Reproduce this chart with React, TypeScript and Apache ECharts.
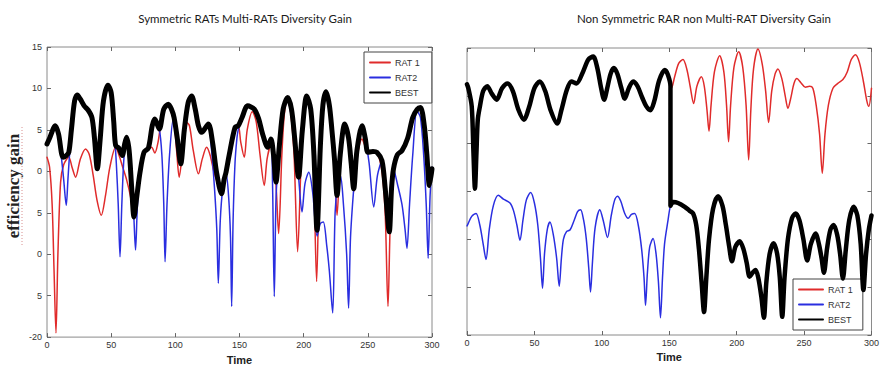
import React, { useEffect, useRef } from 'react';
import * as echarts from 'echarts';

type P = [number, number];

const seriesNames = ['RAT 1', 'RAT2', 'BEST'];
const leftTitle = 'Symmetric RATs Multi-RATs Diversity Gain';
const rightTitle = 'Non Symmetric RAR non Multi-RAT Diversity Gain';
const xName = 'Time';
const yName = 'efficiency gain';
const yTicksLeft = [15, 10, 5, 0, -5, -10, -15, -20];
const yTickLabelsLeft = ['15', '10', '5', '0', '5', '0', '5', '-20'];

// ---- left chart (symmetric) ----
const leftRat1: P[] = [
  [0, 1.7], [2, 0.5], [4, -4], [5.5, -12], [7, -19.5], [8.5, -10], [10.6, -1.3], [13, 0.8], [17, 1.7], [19.5, 0.5],
  [22.3, -0.7], [26, 1.5], [30.1, 2.7], [33, 2], [36, -0.5], [39, -3.5], [42.3, -5.3], [45.5, -3], [49, 0.5], [53.5, 2.9],
  [56, 2], [59, 0.5], [62, -1], [65, -3], [67.5, -5.5], [70, -2], [73, 0.5], [76, 2.3], [79, 2.7], [81.5, 2.9],
  [84, 2.2], [86.5, 3.5], [88, 5], [91, 7.5], [94.5, 8.1], [97, 7], [99, 6], [101, 2.5], [103, -0.7], [106, 3],
  [108.8, 5.9], [111, 5.5], [114, 2.5], [118, -0.3], [121, 1.5], [124.4, 2.9], [127, 2], [130, 0], [133, -1.5], [136, -2.7],
  [139.5, -0.1], [142, 2], [146.5, 5.3], [149, 5.5], [151, 3.5], [153.7, 1.7], [156, 5], [160, 7.2], [163, 6], [166, 2],
  [169.3, -1.7], [171.5, 1.5], [174.5, 3.2], [176.5, 1], [178.4, -1.5], [180.5, -7.5], [183, 2], [185, 7], [187.5, 8.9], [190, 7],
  [192.5, 2], [195.3, -9.7], [198, 1], [200, 6], [202.4, 9.1], [205, 7.5], [207.5, 2], [210.1, -13.3], [212.5, 2], [215, 8],
  [217.4, 9.6], [220, 8], [222, 5], [224, 1], [226, -5.3], [228.5, 1.5], [232, 5.7], [235, 4], [237, 1], [239, -2.5],
  [241.5, 1.5], [245.5, 3.9], [248, 3], [250.1, 2.3], [254, 2.4], [257, 2.3], [261, 0], [263.5, -5], [265.7, -16.3], [268, -4],
  [272, 2], [276.6, 2.5], [281, 4], [285, 6.5], [288.5, 7.5], [291, 7.7], [294, 5.5], [296, 2], [298, -1.7], [300, 0.3],
];

const leftRat2: P[] = [
  [0, 3.3], [2, 4.0], [6.5, 5.5], [9, 4.5], [11, 2.0], [13, -1], [15, -4.1], [16.3, -1], [17.5, 1.9], [19, 5],
  [21.5, 8.5], [23.6, 9.2], [26, 8.7], [29, 7.9], [32, 7.4], [35, 6.5], [37, 4], [39.2, 0.3], [41.5, 4], [44, 8.5],
  [47.5, 10.4], [50, 9.5], [52, 6], [54, 1], [55.5, -4], [56.9, -10.3], [58.3, -4], [60, 1.7], [62, 4.1], [64, 2.5],
  [66, -2], [67.5, -5], [69, -9.5], [70.5, -4], [72.5, -0.5], [75.6, 2.3], [79, 2.8], [82, 5.5], [84, 6.3], [87.5, 5.1],
  [89.5, 2], [91, -4], [92, -10.9], [93.5, -4], [95.5, 2], [98.4, 6.3], [100.5, 4], [102.5, 1.5], [104.2, 0.9], [107, 5],
  [110, 8.3], [112.7, 9.1], [115.5, 7.5], [118, 5.5], [120.5, 4.7], [123, 5.3], [125.7, 5.7], [128, 3], [130.5, -2], [132.3, -7],
  [133.5, -13.5], [135, -6], [137, -2], [139.5, -0.3], [141.5, -3], [143, -8], [143.9, -16.3], [145, -6], [146.5, 1], [148, 4],
  [149, 5], [152, 6.5], [156.4, 7.9], [161.5, 7.5], [165, 6.3], [168, 4.5], [172, 2.9], [174.5, 3.9], [175.8, -2], [177.1, -15.1],
  [178.5, -3], [180.5, 1.5], [184, 7], [187.5, 8.5], [191, 6], [194, 2], [196, -0.7], [198.7, -4.9], [201, -1.5], [204, -0.1],
  [207, -2.5], [210.5, -7.8], [213, -6.3], [215.3, -6.1], [218, -9], [220, -12], [222.6, -17.1], [224.5, -5], [226.5, -1.5], [228.6, -0.5],
  [231, -4], [233.5, -10], [235, -16.5], [236.5, -8], [239, -2.1], [242, 3], [245.5, 5.5], [248, 4], [251, 1], [254.6, -4.3],
  [257.5, -0.5], [261, 1.3], [263.5, -2.5], [266.7, -7.3], [268.5, -2.5], [270, 0.3], [273, -1.5], [276.6, -4], [279, -7], [280.5, -9.3],
  [282.5, -4], [285, 2], [288.3, 7.3], [291, 6.5], [293.5, 2], [295.5, -4], [297, -10.5], [298.5, -3], [300, 0.5],
];

const leftBest: P[] = [
  [0, 3.3], [2, 4.0], [6.5, 5.5], [9, 4.5], [12.5, 1.7], [15, 1.9], [17, 2.3], [19, 5], [21.5, 8.5], [23.6, 9.2],
  [26, 8.7], [29, 7.9], [32, 7.4], [35, 6.5], [37, 4], [39.2, 0.3], [41.5, 4], [44, 8.5], [47.5, 10.4], [50, 9.5],
  [52, 6], [53.5, 3.1], [56, 2.8], [58.7, 1.9], [60.5, 3.3], [62, 4.1], [64, 2.5], [66, -2], [67.8, -5.5], [70, -3],
  [72.5, -0.1], [75.6, 2.3], [79, 2.8], [82, 5.5], [84, 6.3], [87.5, 5.1], [91, 7.5], [94.5, 8.1], [97, 7.5], [99, 6.5],
  [101.5, 4], [104.2, 0.9], [107, 5], [110, 8.3], [112.7, 9.1], [115.5, 7.5], [118, 5.5], [120.5, 4.7], [125.7, 5.7], [129, 3.5],
  [132, 0], [136, -2.7], [138, -1], [139.5, -0.1], [142, 2], [146.5, 5.3], [149, 5.5], [152, 6.5], [156.4, 7.9], [161.5, 7.5],
  [165, 6.3], [168, 4.5], [172, 2.9], [174.5, 3.9], [176.5, 2], [178.4, -1.3], [181, 3], [184, 7.5], [187.5, 8.9], [190.5, 7.5],
  [193, 4], [196, -0.7], [199, 5], [202.4, 9.1], [205.5, 7.5], [208, 2], [210.4, -7.1], [213, 3], [215, 8], [217.4, 9.6],
  [220, 8], [222, 5], [224, 1.5], [226, -2.9], [228.5, 2], [232, 5.7], [235, 4], [237, 1], [239, -2.1], [241.5, 2.5],
  [245.5, 5.5], [248, 4], [250.1, 2.3], [254, 2.4], [257, 2.3], [261, 1.3], [263.5, -2], [266.7, -7.3], [268.5, -2], [270, 0.3],
  [273, 2], [276.6, 2.5], [281, 4], [285, 6.5], [288.5, 7.5], [291, 7.7], [294, 5.5], [296, 2], [298, -1.7], [300, 0.3],
];

// ---- right chart (non symmetric) ----
const rightUpper: P[] = [
  [0, 11.2], [1, 10.8], [3.5, 8.9], [4.8, 4], [5.9, 0.3], [7, 4], [8, 7.5], [9.6, 8.9], [12, 10.5], [15, 11.0],
  [18.5, 10.2], [22, 9.6], [26, 10.8], [30.1, 11.3], [34, 10.5], [38, 8.6], [42.2, 7.5], [46, 8.8], [50, 10.8], [54, 11.5],
  [58, 10.5], [62, 8.5], [66.9, 7.1], [70, 8.5], [74, 10.6], [77.5, 11.5], [81.2, 11.3], [86, 12.5], [90, 13.8], [93.6, 14.1],
  [96.5, 13.0], [99.5, 10.8], [101.7, 9.6], [104, 10.8], [106.5, 12.3], [108.9, 12.9], [111.5, 12.3], [114.5, 10.8], [117, 9.7], [120, 10.8],
  [123.2, 11.5], [126.5, 11.0], [130, 9.8], [133, 8.9], [136, 8.5], [139, 9.5], [142.5, 11.6], [146.7, 12.7], [149, 12.2], [150.9, 11],
  [151.6, 10.8], [154, 12], [157, 13.4], [160.2, 13.8], [163, 12.8], [165.5, 11], [168.1, 9.2], [170.5, 11], [173.8, 12.0], [176, 11],
  [178, 8.5], [179.5, 6.3], [181, 9], [183.5, 12.5], [187.4, 14.2], [190.5, 12.5], [192.5, 9], [194, 5.2], [195.5, 9], [198, 13],
  [201.5, 14.6], [204.5, 13], [207, 9], [208.9, 3.3], [210.5, 8.5], [212.5, 12.8], [215.8, 14.9], [219, 13.3], [221.5, 10.5], [223.7, 7.2],
  [226, 10.5], [228.5, 12.3], [230.6, 12.8], [233.5, 11.8], [236, 10], [238, 8.7], [240.5, 10], [242.5, 11.3], [244.7, 11.8], [247.5, 11.4],
  [251, 10.9], [254, 11], [256.5, 10.8], [259, 9], [261.5, 6], [263.5, 1.9], [265.5, 6], [268, 9], [271.4, 10.8], [275, 11.3],
  [278.8, 11.7], [282, 12.5], [285, 13.8], [288.1, 14.3], [291, 13.5], [294, 11.5], [296.5, 9.5], [298, 8.9], [300, 10.8],
];

const rightLower: P[] = [
  [0, -3.6], [1, -3.3], [3.5, -2.6], [6.7, -2.3], [9.5, -3.5], [12, -5.5], [14.1, -7.1], [16.5, -4], [19.5, -1.5], [23.2, -0.4],
  [27, -0.8], [31.9, -1.2], [34.5, -2], [37, -3.5], [39.3, -5.1], [41.5, -3], [44, -0.9], [47.2, -0.1], [50, -1.2], [52.5, -3.5],
  [54.5, -7], [56, -10.1], [57.5, -6.5], [59.5, -4], [61.5, -3.2], [64, -4.5], [66.5, -7], [68.4, -9.9], [70, -7], [71.5, -5],
  [73.8, -4.2], [76.5, -4.0], [79.5, -3], [82, -2.1], [84.2, -1.9], [86.5, -3], [88.5, -5], [90.3, -8], [91.6, -10.5], [93, -7.5],
  [95, -3.8], [98.5, -1.9], [101, -3], [104.2, -4.8], [107, -2.5], [109.5, -0.9], [111.6, -0.5], [114, -1], [117, -2.3], [119.5, -2.8],
  [122, -2.4], [124.4, -2.3], [127, -3.5], [129.5, -6], [131.3, -9], [132.4, -11.9], [133.8, -8.5], [135.5, -5.8], [138, -4.9], [140.2, -6.5],
  [142, -9.5], [143.5, -13.2], [145, -9], [146.5, -5.5], [149.1, -3], [150.9, -1.5], [153, -1.1], [156.5, -1.2], [161.5, -1.6], [165, -2],
  [167.7, -2.3], [170, -3.5], [172, -6], [174, -9.5], [175.8, -12.6], [177.5, -9], [179.5, -5], [182.5, -1.8], [186.2, -0.5], [189.5, -1.5],
  [192, -3.5], [194.5, -5.8], [196.5, -7.3], [199, -5.8], [202.2, -5.2], [205, -6], [207.5, -7.5], [209.6, -8.9], [211.8, -8.5], [214, -8.2],
  [216, -9], [218.3, -11], [220.2, -13.2], [222, -9.5], [224.5, -6.5], [227.4, -5.4], [230, -6.5], [232, -9], [233.8, -13.1], [235.5, -9],
  [238, -5], [241, -2.8], [243.7, -2.3], [246.5, -3], [249.5, -5], [252.3, -7.2], [255, -5.5], [258.5, -4.4], [261, -5.5], [263, -7],
  [264.7, -8.5], [267, -6], [269.5, -4], [271.9, -3.5], [274.5, -4.5], [276.7, -6.5], [278.8, -9.1], [281, -6], [283.5, -3], [286.7, -1.6],
  [289.5, -2.5], [292, -5.5], [294, -10.3], [296, -6.5], [298, -4], [300, -2.5],
];
const rightSwitchTime = 150.9;

const COLORS = { red: '#e02b2b', blue: '#2a2ee0', black: '#000000' };

export default function App() {
  const ref = useRef<HTMLDivElement>(null);
  useEffect(() => {
    const chart = echarts.init(ref.current!, null, { renderer: 'svg' });
    const rightBest: P[] = rightUpper
      .filter((p) => p[0] <= rightSwitchTime)
      .concat(rightLower.filter((p) => p[0] >= rightSwitchTime));

    const font = 'Liberation Sans, Arial, sans-serif';
    const labelStyle = { fontSize: 9, color: '#333', fontFamily: font };
    const tick = { show: true, inside: true, length: 4, lineStyle: { color: '#666' } };

    const xBase = (gridIndex: number, position: 'top' | 'bottom', labels: boolean) => ({
      type: 'value', gridIndex, position, min: 0, max: 300, interval: 50,
      axisLine: { show: false, onZero: false }, axisTick: tick, splitLine: { show: false },
      axisLabel: labels ? { ...labelStyle, margin: 3, showMaxLabel: true, showMinLabel: true } : { show: false },
      name: labels ? xName : '', nameLocation: 'middle', nameGap: 13,
      nameTextStyle: { fontSize: 11, fontWeight: 'bold', color: '#222', fontFamily: font },
    });
    const yBase = (gridIndex: number, position: 'left' | 'right', min: number, max: number, labels: boolean) => ({
      type: 'value', gridIndex, position, min, max, interval: 5,
      axisLine: { show: false, onZero: false }, axisTick: tick, splitLine: { show: false },
      axisLabel: labels
        ? { ...labelStyle, margin: 5, formatter: (v: number) => { const i = yTicksLeft.indexOf(v); return i >= 0 ? yTickLabelsLeft[i] : ''; } }
        : { show: false },
    });

    const line = (name: string, data: P[], color: string, width: number, xi: number, yi: number, z: number) => ({
      name, type: 'line', data, xAxisIndex: xi, yAxisIndex: yi, symbol: 'none', showSymbol: false,
      smooth: 0.3, z, lineStyle: { color, width, cap: 'round', join: 'round' }, itemStyle: { color },
    });

    const legendBase = {
      orient: 'vertical', data: seriesNames, backgroundColor: '#fff', borderColor: '#444', borderWidth: 1,
      itemGap: 6, itemHeight: 10, borderRadius: 0,
      itemStyle: { opacity: 0 },
      textStyle: { fontSize: 9, color: '#333', fontFamily: font },
      selectedMode: false,
    };

    chart.setOption({
      animation: false,
      backgroundColor: '#fff',
      title: [
        { text: leftTitle, left: 240, top: 7, textAlign: 'center', textStyle: { fontSize: 11.5, fontWeight: 'normal', color: '#1a1a1a', fontFamily: 'Lato, sans-serif' } },
        { text: rightTitle, left: 572, top: 7, textAlign: 'left', textStyle: { fontSize: 11.5, fontWeight: 'normal', color: '#1a1a1a', fontFamily: 'Lato, sans-serif' } },
      ],
      grid: [
        { left: 47, top: 47, width: 385, height: 293, show: true, borderColor: '#8a8a8a', borderWidth: 1, backgroundColor: '#fff' },
        { left: 467, top: 48, width: 405, height: 287, show: true, borderColor: '#8a8a8a', borderWidth: 1, backgroundColor: '#fff' },
      ],
      xAxis: [xBase(0, 'bottom', true), xBase(0, 'top', false), xBase(1, 'bottom', true), xBase(1, 'top', false)],
      yAxis: [yBase(0, 'left', -20, 15, true), yBase(0, 'right', -20, 15, false), yBase(1, 'left', -15, 15, false), yBase(1, 'right', -15, 15, false)],
      legend: [
        { ...legendBase, left: 364, top: 52, itemWidth: 20, padding: [6, 12, 6, 5] },
        { ...legendBase, left: 793, top: 279, itemWidth: 24, padding: [6, 10, 6, 5] },
      ],
      graphic: [
        { type: 'text', x: 13, y: 186, rotation: Math.PI / 2, style: { text: yName, fontSize: 17, fontWeight: 'bold', fill: '#222', fontFamily: 'Liberation Serif, Times New Roman, serif', align: 'center', verticalAlign: 'middle' } },
        { type: 'line', shape: { x1: 22, y1: 127, x2: 22, y2: 245 }, style: { stroke: '#d89090', lineWidth: 1, lineDash: [1, 2] } },
      ],
      series: [
        line(seriesNames[0], leftRat1, COLORS.red, 1.5, 0, 0, 2),
        line(seriesNames[1], leftRat2, COLORS.blue, 1.5, 0, 0, 3),
        line(seriesNames[2], leftBest, COLORS.black, 5, 0, 0, 4),
        line(seriesNames[0], rightUpper, COLORS.red, 1.5, 2, 2, 2),
        line(seriesNames[1], rightLower, COLORS.blue, 1.5, 2, 2, 3),
        line(seriesNames[2], rightBest, COLORS.black, 4.5, 2, 2, 4),
      ],
    });
    return () => chart.dispose();
  }, []);
  return <div ref={ref} style={{ position: 'fixed', left: 0, top: 0, width: 882, height: 370 }} />;
}
